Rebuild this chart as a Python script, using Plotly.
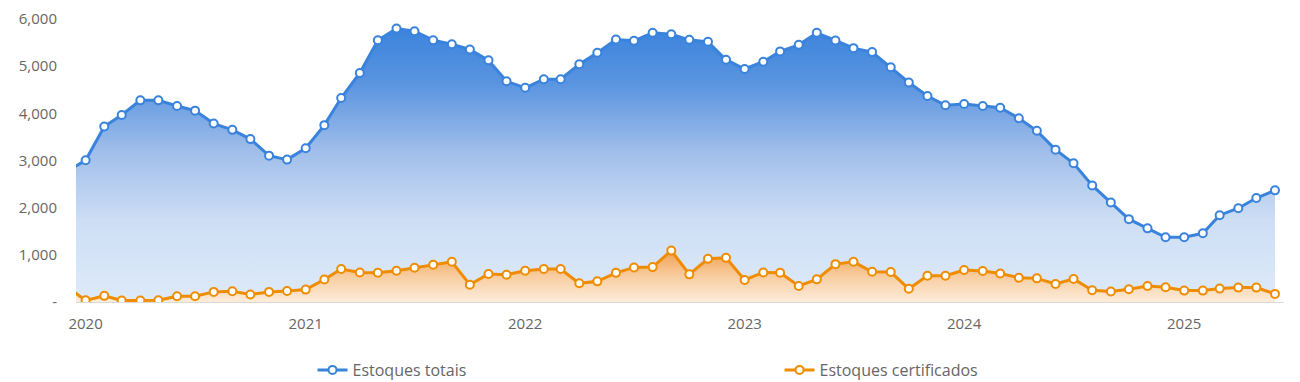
import pandas as pd
import plotly.graph_objects as go

# Monthly categories: Dec 2019 .. Jun 2025
months = [d.strftime("%Y-%m-%d") for d in pd.date_range("2019-12-01", "2025-06-01", freq="MS")]

estoques_totais = [
    2770,
    3004, 3720, 3966, 4275, 4275, 4155, 4057, 3783, 3650, 3454, 3103, 3019,
    3260, 3750, 4324, 4856, 5550, 5796, 5740, 5550, 5466, 5355, 5123, 4681,
    4541, 4724, 4724, 5039, 5285, 5565, 5537, 5706, 5677, 5558, 5516, 5137,
    4940, 5095, 5313, 5453, 5706, 5544, 5382, 5298, 4976, 4654, 4366, 4170,
    4197, 4155, 4120, 3896, 3629, 3230, 2942, 2472, 2108, 1757, 1561, 1372,
    1372, 1456, 1841, 1988, 2205, 2367,
]

estoques_certificados = [
    324,
    35, 130, 32, 32, 38, 122, 122, 214, 228, 158, 214, 235,
    263, 476, 698, 627, 621, 663, 726, 789, 852, 368, 593, 579,
    663, 698, 698, 396, 438, 618, 733, 740, 1090, 586, 915, 936,
    467, 627, 621, 341, 480, 803, 852, 642, 635, 280, 558, 558,
    677, 656, 606, 515, 501, 383, 488, 248, 221, 269, 341, 311,
    242, 242, 284, 305, 305, 172,
]

y_tickvals = [0, 1000, 2000, 3000, 4000, 5000, 6000]
y_ticktext = ["-", "1,000", "2,000", "3,000", "4,000", "5,000", "6,000"]
x_tickvals = ["2020-01-01", "2021-01-01", "2022-01-01", "2023-01-01", "2024-01-01", "2025-01-01"]
x_ticktext = ["2020", "2021", "2022", "2023", "2024", "2025"]

BLUE = "#3a83dc"
ORANGE = "#f08c00"
FONT = "Open Sans"
TXT = "#666666"

fig = go.Figure()

# Filled areas (no legend)
fig.add_trace(go.Scatter(
    x=months, y=estoques_totais, mode="lines", line=dict(width=0, color=BLUE),
    showlegend=False, hoverinfo="skip", fill="tozeroy",
    fillgradient=dict(
        type="vertical", start=0, stop=max(estoques_totais),
        colorscale=[
            [0.0, "rgb(222,234,249)"],
            [0.3, "rgb(205,222,245)"],
            [0.55, "rgb(160,190,234)"],
            [0.8, "rgb(90,148,224)"],
            [1.0, "rgb(58,132,220)"],
        ],
    ),
))
fig.add_trace(go.Scatter(
    x=months, y=estoques_totais, name="Estoques totais",
    mode="lines+markers",
    line=dict(color=BLUE, width=3),
    marker=dict(size=8, color="white", line=dict(color=BLUE, width=2)),
))

fig.add_trace(go.Scatter(
    x=months, y=estoques_certificados, mode="lines", line=dict(width=0, color=ORANGE),
    showlegend=False, hoverinfo="skip", fill="tozeroy",
    fillgradient=dict(
        type="vertical", start=0, stop=max(estoques_certificados),
        colorscale=[
            [0.0, "rgb(252,236,218)"],
            [0.5, "rgb(248,205,160)"],
            [1.0, "rgb(240,160,80)"],
        ],
    ),
))
fig.add_trace(go.Scatter(
    x=months, y=estoques_certificados, name="Estoques certificados",
    mode="lines+markers",
    line=dict(color=ORANGE, width=3),
    marker=dict(size=8, color="white", line=dict(color=ORANGE, width=2)),
))

# The page body adds an 8px offset; size the figure so the plot lands where the reference has it.
fig.update_layout(
    width=1284, height=374,
    margin=dict(l=68, r=8, t=11, b=80, autoexpand=False),
    paper_bgcolor="white", plot_bgcolor="white",
    font=dict(family=FONT, size=15, color=TXT),
    showlegend=True,
    legend=dict(
        orientation="h", x=0.1958, xanchor="left", y=-0.2403, yanchor="middle",
        entrywidth=422, font=dict(family=FONT, size=16, color=TXT),
        itemclick=False,
    ),
    xaxis=dict(
        type="date", range=["2019-12-16", "2025-06-16"],
        tickvals=x_tickvals, ticktext=x_ticktext,
        showgrid=False, zeroline=False, automargin=False,
        showline=True, linecolor="#d9d9d9", linewidth=1,
        ticks="", ticklabelstandoff=8,
        tickfont=dict(family=FONT, size=15, color=TXT),
    ),
    yaxis=dict(
        range=[0, 6000], automargin=False,
        tickvals=y_tickvals, ticktext=y_ticktext,
        showgrid=False, zeroline=False, showline=False,
        ticks="", ticklabelstandoff=18,
        tickfont=dict(family=FONT, size=15, color=TXT),
    ),
)

fig.write_html("out.html")
